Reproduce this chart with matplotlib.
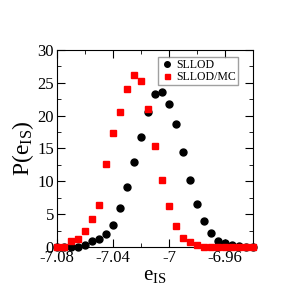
import matplotlib
matplotlib.use("Agg")
import matplotlib.pyplot as plt
import numpy as np
from matplotlib.ticker import MultipleLocator

# energy grid (every 0.005)
e_is = np.round(np.arange(-7.08, -6.9399, 0.005), 3)

sllod = [0, 0, 0, 0, 0.35, 1.0, 1.3, 2.0, 3.3, 5.9, 9.2, 12.9, 16.7, 20.6,
         23.3, 23.6, 21.8, 18.7, 14.4, 10.2, 6.6, 3.9, 2.2, 1.0, 0.55, 0.25,
         0.1, 0.05, 0]
sllod_mc = [0, 0, 0.85, 1.3, 2.4, 4.2, 6.4, 12.6, 17.3, 20.5, 24.1, 26.2,
            25.2, 21.0, 15.4, 10.2, 6.2, 3.2, 1.4, 0.7, 0.25, 0.05, 0, 0, 0,
            0, 0, 0, 0]

plt.rcParams["font.family"] = ["Liberation Serif", "DejaVu Serif"]
plt.rcParams["mathtext.fontset"] = "custom"
plt.rcParams["mathtext.rm"] = "Liberation Serif"
plt.rcParams["mathtext.it"] = "Liberation Serif"

fig = plt.figure(figsize=(2.83, 2.90), dpi=100)
ax = fig.add_axes([0.201, 0.148, 0.693, 0.680])

ax.plot(e_is, sllod, "o", color="black", ms=5, clip_on=False, label="SLLOD", zorder=3)
ax.plot(e_is, sllod_mc, "s", color="red", ms=4.5, clip_on=False, label="SLLOD/MC", zorder=4)

ax.set_xlim(-7.08, -6.94)
ax.set_ylim(0, 30)
ax.xaxis.set_major_locator(MultipleLocator(0.04))
ax.xaxis.set_minor_locator(MultipleLocator(0.02))
ax.yaxis.set_major_locator(MultipleLocator(5))
ax.yaxis.set_minor_locator(MultipleLocator(2.5))
ax.set_xticks([-7.08, -7.04, -7.0, -6.96])
ax.set_xticklabels(["-7.08", "-7.04", "-7", "-6.96"])
ax.tick_params(which="both", direction="in", top=True, right=True, labelsize=12, pad=2)
ax.tick_params(which="major", length=6)
ax.tick_params(which="minor", length=3)
for s in ax.spines.values():
    s.set_linewidth(0.8)

ax.set_xlabel(r"e$_{\mathrm{IS}}$", fontsize=15, labelpad=0)
ax.set_ylabel(r"P(e$_{\mathrm{IS}}$)", fontsize=17, labelpad=1)

leg = ax.legend(loc="upper right", fontsize=8.5, handletextpad=0.2, borderpad=0.15,
                labelspacing=0.0, handlelength=1.2, fancybox=False, markerscale=0.8,
                bbox_to_anchor=(0.923, 0.964), borderaxespad=0)
leg.get_frame().set_edgecolor("#888888")
leg.get_frame().set_linewidth(1.0)

fig.savefig("out.png", dpi=100)
